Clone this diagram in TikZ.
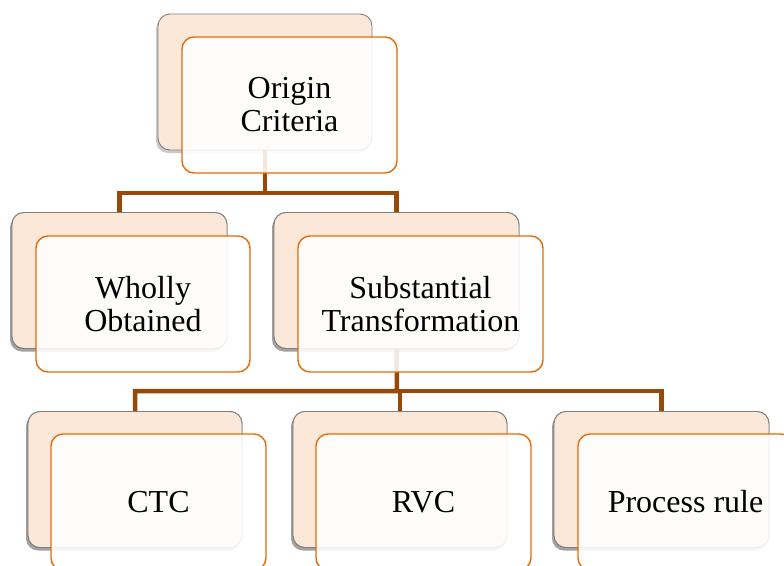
\documentclass[tikz,border=0pt]{standalone}
\usepackage{fontspec}
\setmainfont{Liberation Serif}
\usetikzlibrary{shadows}
\definecolor{peach}{HTML}{FBE8D9}
\definecolor{backline}{HTML}{7F7F7F}
\definecolor{frontline}{HTML}{E46C0A}
\definecolor{conn}{HTML}{984807}
\tikzset{
  backbox/.style={draw=backline, line width=0.9pt, fill=peach, rounded corners=12pt,
    minimum height=136pt, inner sep=0pt,
    drop shadow={shadow xshift=-2pt, shadow yshift=-3pt, opacity=0.3, fill=black!70}},
  frontbox/.style={draw=frontline, line width=1.4pt, fill=white, fill opacity=0.88, text opacity=1,
    rounded corners=12pt, minimum height=136pt, inner sep=0pt, align=center,
    font=\fontsize{32}{33}\selectfont},
  connector/.style={draw=conn, line width=4.5pt}
}
\begin{document}
\begin{tikzpicture}[x=1pt,y=-1pt]
\useasboundingbox (0,0) rectangle (784,565);
% back boxes
\node[backbox, minimum width=214pt] (ob) at (265,82) {};
\node[backbox, minimum width=215pt] (wb) at (119.5,280.5) {};
\node[backbox, minimum width=245pt] (sb) at (396.5,280.5) {};
\node[backbox, minimum width=214pt] (cb) at (135,479.5) {};
\node[backbox, minimum width=214pt] (rb) at (400,479.5) {};
\node[backbox, minimum width=215pt] (pb) at (661.5,479.5) {};
% connectors
\coordinate (bus1) at (265,193);
\coordinate (bus2) at (397,391);
\draw[connector] (ob.south) -- (bus1) -| (wb.north);
\draw[connector] (bus1) -| (sb.north);
\draw[connector] (sb.south) -- (bus2) -| (cb.north);
\draw[connector] (bus2) -| (rb.north);
\draw[connector] (bus2) -| (pb.north);
% redraw back boxes over connector ends
\node[backbox, minimum width=215pt] at (119.5,280.5) {};
\node[backbox, minimum width=245pt] at (396.5,280.5) {};
\node[backbox, minimum width=214pt] at (135,479.5) {};
\node[backbox, minimum width=214pt] at (400,479.5) {};
\node[backbox, minimum width=215pt] at (661.5,479.5) {};
% front boxes
\node[frontbox, minimum width=215pt] (of) at (289.5,105) {Origin\\Criteria};
\node[frontbox, minimum width=214pt] (wf) at (143,304) {Wholly\\Obtained};
\node[frontbox, minimum width=245pt] (sf) at (420.5,304) {Substantial\\Transformation};
\node[frontbox, minimum width=215pt] (cf) at (158.5,502) {CTC};
\node[frontbox, minimum width=215pt] (rf) at (423.5,502) {RVC};
\node[frontbox, minimum width=215pt] (pf) at (685.5,502) {Process rule};
\end{tikzpicture}
\end{document}
